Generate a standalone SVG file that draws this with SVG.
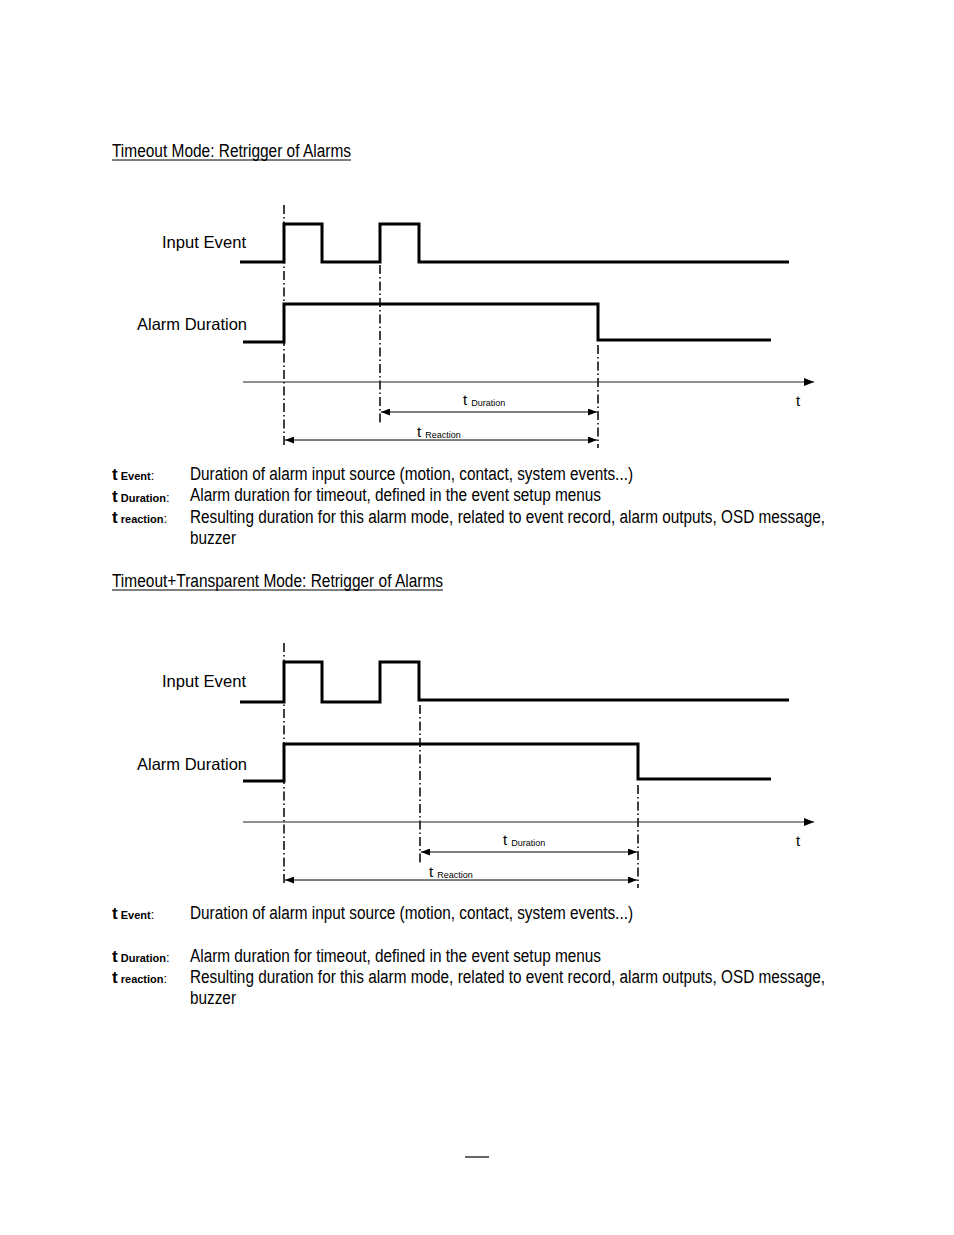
<svg xmlns="http://www.w3.org/2000/svg" width="954" height="1235" viewBox="0 0 954 1235">
<style>
text{font-family:"Liberation Sans",Arial,sans-serif;fill:#000}
.body{font-size:18px}
.lbl{font-size:16.5px}
.sig{fill:none;stroke:#000;stroke-width:3;stroke-linejoin:miter}
.dd{stroke:#000;stroke-width:1.5;stroke-dasharray:9 3 1.5 3;fill:none}
.axis{stroke:#222;stroke-width:1.2;fill:none}
.dim{stroke:#000;stroke-width:1;fill:none}
.tb{font-weight:bold;font-size:17px}
.sub{font-weight:bold;font-size:11px}
.tl{font-size:15px}
.ts{font-size:9px}
</style>
<defs>
<marker id="ax" viewBox="0 0 10 8" refX="10" refY="4" markerWidth="10" markerHeight="8" markerUnits="userSpaceOnUse" orient="auto"><path d="M0,0L10,4L0,8z" fill="#000"/></marker>
<marker id="ae" viewBox="0 0 9 7" refX="9" refY="3.5" markerWidth="9" markerHeight="7" markerUnits="userSpaceOnUse" orient="auto"><path d="M0,0L9,3.5L0,7z" fill="#000"/></marker>
<marker id="as" viewBox="0 0 9 7" refX="0" refY="3.5" markerWidth="9" markerHeight="7" markerUnits="userSpaceOnUse" orient="auto"><path d="M9,0L0,3.5L9,7z" fill="#000"/></marker>
</defs>

<g id="title1">
<text class="body" x="112" y="157" textLength="239" lengthAdjust="spacingAndGlyphs">Timeout Mode: Retrigger of Alarms</text>
<line x1="112" y1="160" x2="351" y2="160" stroke="#000" stroke-width="1"/>
</g>

<g id="diagram1">
<g id="labels1">
<text class="lbl" x="162" y="248" textLength="84" lengthAdjust="spacingAndGlyphs">Input Event</text>
<text class="lbl" x="137" y="330" textLength="110" lengthAdjust="spacingAndGlyphs">Alarm Duration</text>
<text class="tl" x="796" y="406">t</text>
</g>
<g id="signals1">
<path class="sig" d="M240,262H284V224H322V262H380V224H419V262H789"/>
<path class="sig" d="M243,342H284V304H598V340H771"/>
</g>
<g id="connectors1">
<line class="dd" x1="284" y1="205" x2="284" y2="445"/>
<line class="dd" x1="380" y1="265" x2="380" y2="425"/>
<line class="dd" x1="598" y1="345" x2="598" y2="448"/>
<line class="axis" x1="243" y1="382" x2="814" y2="382" marker-end="url(#ax)"/>
<line class="dim" x1="381" y1="412" x2="597" y2="412" marker-start="url(#as)" marker-end="url(#ae)"/>
<line class="dim" x1="285" y1="440" x2="597" y2="440" marker-start="url(#as)" marker-end="url(#ae)"/>
</g>
<g id="dimlabels1">
<text class="tl" x="463" y="405">t <tspan class="ts" dy="1">Duration</tspan></text>
<text class="tl" x="417" y="437">t <tspan class="ts" dy="1">Reaction</tspan></text>
</g>
</g>

<g id="legend1">
<text x="112" y="480"><tspan class="tb">t</tspan><tspan class="sub"> Event</tspan><tspan font-size="13">:</tspan></text>
<text x="112" y="502"><tspan class="tb">t</tspan><tspan class="sub"> Duration</tspan><tspan font-size="13">:</tspan></text>
<text x="112" y="523"><tspan class="tb">t</tspan><tspan class="sub"> reaction</tspan><tspan font-size="13">:</tspan></text>
<text class="body" x="190" y="480" textLength="443" lengthAdjust="spacingAndGlyphs">Duration of alarm input source (motion, contact, system events...)</text>
<text class="body" x="190" y="501" textLength="411" lengthAdjust="spacingAndGlyphs">Alarm duration for timeout, defined in the event setup menus</text>
<text class="body" x="190" y="523" textLength="635" lengthAdjust="spacingAndGlyphs">Resulting duration for this alarm mode, related to event record, alarm outputs, OSD message,</text>
<text class="body" x="190" y="544" textLength="46" lengthAdjust="spacingAndGlyphs">buzzer</text>
</g>

<g id="title2">
<text class="body" x="112" y="587" textLength="331" lengthAdjust="spacingAndGlyphs">Timeout+Transparent Mode: Retrigger of Alarms</text>
<line x1="112" y1="590" x2="443" y2="590" stroke="#000" stroke-width="1"/>
</g>

<g id="diagram2">
<g id="labels2">
<text class="lbl" x="162" y="687" textLength="84" lengthAdjust="spacingAndGlyphs">Input Event</text>
<text class="lbl" x="137" y="770" textLength="110" lengthAdjust="spacingAndGlyphs">Alarm Duration</text>
<text class="tl" x="796" y="846">t</text>
</g>
<g id="signals2">
<path class="sig" d="M240,702H284V662H322V702H380V662H419V700H789"/>
<path class="sig" d="M243,781H284V744H638V779H771"/>
</g>
<g id="connectors2">
<line class="dd" x1="284" y1="643" x2="284" y2="885"/>
<line class="dd" x1="420" y1="705" x2="420" y2="865"/>
<line class="dd" x1="638" y1="785" x2="638" y2="888"/>
<line class="axis" x1="243" y1="822" x2="814" y2="822" marker-end="url(#ax)"/>
<line class="dim" x1="421" y1="852" x2="637" y2="852" marker-start="url(#as)" marker-end="url(#ae)"/>
<line class="dim" x1="285" y1="880" x2="637" y2="880" marker-start="url(#as)" marker-end="url(#ae)"/>
</g>
<g id="dimlabels2">
<text class="tl" x="503" y="845">t <tspan class="ts" dy="1">Duration</tspan></text>
<text class="tl" x="429" y="877">t <tspan class="ts" dy="1">Reaction</tspan></text>
</g>
</g>

<g id="legend2">
<text x="112" y="919"><tspan class="tb">t</tspan><tspan class="sub"> Event</tspan><tspan font-size="13">:</tspan></text>
<text x="112" y="962"><tspan class="tb">t</tspan><tspan class="sub"> Duration</tspan><tspan font-size="13">:</tspan></text>
<text x="112" y="983"><tspan class="tb">t</tspan><tspan class="sub"> reaction</tspan><tspan font-size="13">:</tspan></text>
<text class="body" x="190" y="919" textLength="443" lengthAdjust="spacingAndGlyphs">Duration of alarm input source (motion, contact, system events...)</text>
<text class="body" x="190" y="962" textLength="411" lengthAdjust="spacingAndGlyphs">Alarm duration for timeout, defined in the event setup menus</text>
<text class="body" x="190" y="983" textLength="635" lengthAdjust="spacingAndGlyphs">Resulting duration for this alarm mode, related to event record, alarm outputs, OSD message,</text>
<text class="body" x="190" y="1004" textLength="46" lengthAdjust="spacingAndGlyphs">buzzer</text>
</g>

<g id="footer">
<line x1="465" y1="1157" x2="489" y2="1157" stroke="#000" stroke-width="1.2"/>
</g>
</svg>
